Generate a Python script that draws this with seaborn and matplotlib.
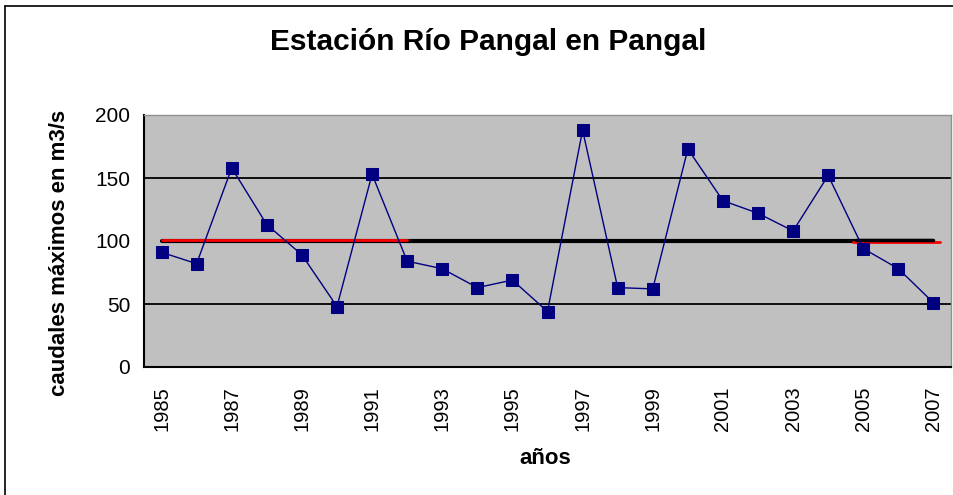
import numpy as np
import pandas as pd
import seaborn as sns
import matplotlib.pyplot as plt
from matplotlib.lines import Line2D

years = list(range(1985, 2008))
caudales = [91, 82, 158, 113, 89, 48, 153, 84, 78, 63, 69, 44, 188,
            63, 62, 173, 132, 122, 108, 152, 94, 78, 51]
promedio = 100
tramo1 = [1985, 1992]   # red segment left
tramo2 = [2004.7, 2007.2]  # red segment right
etiquetas = [str(y) for y in range(1985, 2008, 2)]

df = pd.DataFrame({"anio": years, "caudal": caudales})

sns.set_style("white")
plt.rcParams["font.family"] = ["Liberation Sans", "DejaVu Sans"]
plt.rcParams["text.color"] = "black"
plt.rcParams["axes.labelcolor"] = "black"
plt.rcParams["xtick.color"] = "black"
plt.rcParams["ytick.color"] = "black"

fig = plt.figure(figsize=(9.54, 4.95), dpi=100)
ax = fig.add_axes([144 / 954, 1 - 367 / 495, (951 - 144) / 954, (367 - 115) / 495])
ax.set_facecolor("#C0C0C0")

# grid lines
for g in [50, 150]:
    ax.axhline(g, color="black", lw=1.3, zorder=1)

# mean line and red segments
ax.plot([years[0], years[-1]], [promedio, promedio], color="black", lw=3, zorder=2)
ax.plot(tramo1, [promedio + 1, promedio + 1], color="#FF0000", lw=2, zorder=2)
ax.plot(tramo2, [promedio - 0.8, promedio - 0.8], color="#FF0000", lw=2, zorder=2)
ax.plot([tramo2[0] + 0.1, years[-1]], [promedio + 0.6, promedio + 0.6], color="black", lw=2.5, zorder=2)

sns.lineplot(data=df, x="anio", y="caudal", ax=ax, color="#000080", lw=1,
             marker="s", markersize=8.5, markeredgecolor="#000080", zorder=3)

ax.set_xlim(years[0] - 0.5, years[-1] + 0.5)
ax.set_ylim(0, 200)
ax.set_yticks([0, 50, 100, 150, 200])
ax.set_yticklabels(["0", "50", "100", "150", "200"], fontsize=15)

ax.set_xticks(np.arange(years[0] - 0.5, years[-1] + 1, 1))
ax.set_xticklabels([])
ax.set_xticks(range(1985, 2008, 2), minor=True)
ax.set_xticklabels(etiquetas, minor=True, rotation=90, fontsize=14.5)
ax.tick_params(axis="x", which="major", direction="out", length=6, width=1.3, color="black")
ax.tick_params(axis="x", which="minor", length=0, pad=14)
ax.tick_params(axis="y", direction="out", length=6, width=1.3, color="black", pad=4)

for s in ["left", "bottom"]:
    ax.spines[s].set_color("black")
    ax.spines[s].set_linewidth(1.5)
for s in ["top", "right"]:
    ax.spines[s].set_color("#909090")
    ax.spines[s].set_linewidth(1)

ax.set_xlabel("")
ax.set_ylabel("")
fig.text(545 / 954, 1 - 458 / 495, "años", fontsize=16, fontweight="bold",
         ha="center", va="center")
fig.text(60 / 954, 1 - 253 / 495, "caudales máximos en m3/s", fontsize=16,
         fontweight="bold", rotation=90, ha="center", va="center")
fig.text(488 / 954, 1 - 42 / 495, "Estación Río Pangal en Pangal", fontsize=21.5,
         fontweight="bold", ha="center", va="center")

# outer chart border
fig.add_artist(Line2D([5 / 954, 5 / 954], [0, 1 - 6 / 495], color="black", lw=1.2))
fig.add_artist(Line2D([5 / 954, 1], [1 - 6 / 495, 1 - 6 / 495], color="black", lw=1.2))

fig.savefig("out.png", dpi=100)
